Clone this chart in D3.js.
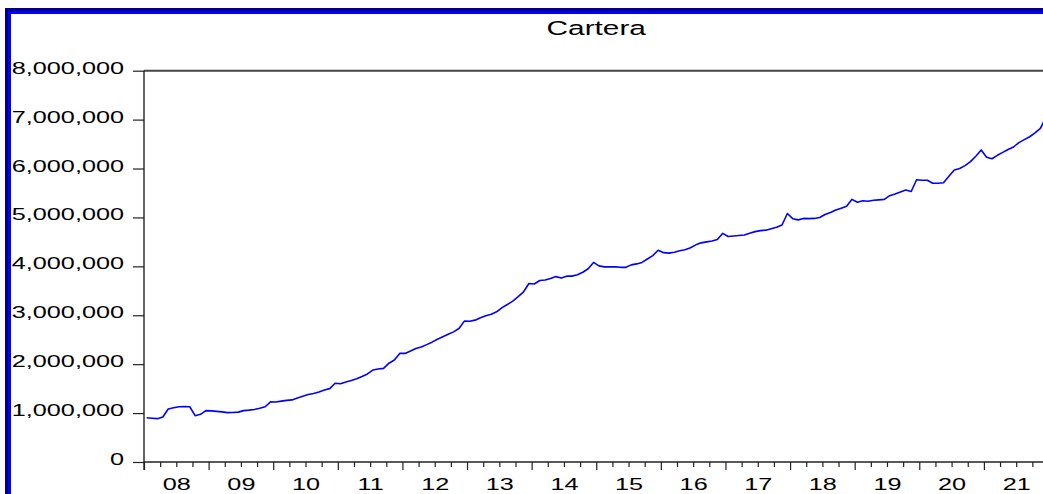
<!DOCTYPE html>
<html><head><meta charset="utf-8">
<script src="https://cdn.jsdelivr.net/npm/d3@7"></script>
<style>html,body{margin:0;padding:0;background:#fff;overflow:hidden}</style>
</head><body><svg id="c" width="1043" height="494"></svg>
<script>
const title = "Cartera";
const years = [2008,2009,2010,2011,2012,2013,2014,2015,2016,2017,2018,2019,2020,2021];
const yearLabels = ["08","09","10","11","12","13","14","15","16","17","18","19","20","21"];
const yTicks = [0,1000000,2000000,3000000,4000000,5000000,6000000,7000000,8000000];
// monthly values, Jan..Dec
const v2008 = [906000,895000,886000,920000,1084000,1110000,1130000,1135000,1130000,947000,975000,1050000];
const v2009 = [1045000,1035000,1025000,1010000,1012000,1020000,1050000,1060000,1075000,1100000,1130000,1230000];
const v2010 = [1227000,1245000,1260000,1270000,1310000,1345000,1380000,1400000,1430000,1470000,1500000,1610000];
const v2011 = [1600000,1635000,1665000,1700000,1750000,1800000,1880000,1900000,1915000,2020000,2085000,2220000];
const v2012 = [2220000,2270000,2320000,2350000,2400000,2450000,2510000,2560000,2610000,2660000,2730000,2880000];
const v2013 = [2877000,2900000,2950000,2990000,3020000,3070000,3155000,3220000,3290000,3380000,3480000,3650000];
const v2014 = [3640000,3710000,3720000,3750000,3790000,3760000,3800000,3800000,3830000,3880000,3950000,4080000];
const v2015 = [4010000,3990000,3990000,3990000,3980000,3980000,4030000,4050000,4080000,4150000,4220000,4330000];
const v2016 = [4280000,4270000,4290000,4320000,4340000,4380000,4440000,4480000,4500000,4520000,4550000,4675000];
const v2017 = [4610000,4620000,4630000,4640000,4675000,4710000,4730000,4740000,4770000,4800000,4845000,5080000];
const v2018 = [4975000,4950000,4980000,4975000,4980000,5000000,5060000,5100000,5150000,5190000,5230000,5370000];
const v2019 = [5310000,5340000,5330000,5350000,5360000,5370000,5445000,5480000,5520000,5560000,5530000,5770000];
const v2020 = [5760000,5760000,5700000,5700000,5710000,5840000,5970000,6000000,6060000,6140000,6250000,6380000];
const v2021 = [6230000,6200000,6270000,6330000,6390000,6440000,6530000,6590000,6650000,6730000,6820000,7050000];
const seriesByYear = [v2008,v2009,v2010,v2011,v2012,v2013,v2014,v2015,v2016,v2017,v2018,v2019,v2020,v2021];

const data = [];
years.forEach((yr,k)=>seriesByYear[k].forEach((v,m)=>data.push({t: yr+(m+0.5)/12, v})));

const svg = d3.select("#c");
const FONT = "'Liberation Sans', Arial, Helvetica, sans-serif";
const SX = 1.53;

const L = 144, R = 1048.5, T = 70.7, B = 462;
const x = d3.scaleLinear().domain([years[0], years[years.length-1]+1]).range([L, R]);
const y = d3.scaleLinear().domain([0, 8000000]).range([B, T]);

// frame (blue border)
svg.append("rect").attr("x",5).attr("y",8).attr("width",1043).attr("height",3).attr("fill","#000080");
svg.append("rect").attr("x",5).attr("y",8).attr("width",3).attr("height",494).attr("fill","#000080");
svg.append("rect").attr("x",8).attr("y",11).attr("width",1043).attr("height",3).attr("fill","#0000ff");
svg.append("rect").attr("x",8).attr("y",11).attr("width",3).attr("height",494).attr("fill","#0000ff");

// title
svg.append("text").attr("transform",`translate(${(L+R)/2},35) scale(${SX},1)`)
  .attr("text-anchor","middle").attr("font-family",FONT).attr("font-size",19.5).attr("fill","#000").text(title);

// top frame line
svg.append("line").attr("x1",L).attr("x2",R+5).attr("y1",T).attr("y2",T).attr("stroke","#444").attr("stroke-width",2);

// y axis
const gy = svg.append("g").attr("transform",`translate(${L},0)`)
  .call(d3.axisLeft(y).tickValues(yTicks).tickFormat(d3.format(",")).tickSize(11).tickSizeOuter(0));
gy.select(".domain").remove();
gy.selectAll(".tick line").attr("stroke","#222").attr("stroke-width",1.2);
gy.selectAll(".tick text").attr("x",0).attr("dy",null).attr("y",2.5)
  .attr("transform",`translate(-20,0) scale(${SX},1)`)
  .attr("font-family",FONT).attr("font-size",16.5).attr("fill","#000");
svg.append("line").attr("x1",L).attr("x2",L).attr("y1",T).attr("y2",B+8).attr("stroke","#111").attr("stroke-width",1.3);

// x axis: minor quarter ticks
const quarters = [];
years.forEach(yr=>[0.25,0.5,0.75].forEach(q=>quarters.push(yr+q)));
const gxm = svg.append("g").attr("transform",`translate(0,${B})`)
  .call(d3.axisBottom(x).tickValues(quarters).tickSize(5).tickSizeOuter(0).tickFormat(""));
gxm.select(".domain").remove();
gxm.selectAll(".tick line").attr("stroke","#222").attr("stroke-width",1.2);

const majors = years.concat([years[years.length-1]+1]);
const gxM = svg.append("g").attr("transform",`translate(0,${B})`)
  .call(d3.axisBottom(x).tickValues(majors).tickSize(8).tickSizeOuter(0).tickFormat(""));
gxM.select(".domain").remove();
gxM.selectAll(".tick line").attr("stroke","#222").attr("stroke-width",1.2);

const gxl = svg.append("g").attr("transform",`translate(0,${B})`)
  .call(d3.axisBottom(x).tickValues(years.map(yr=>yr+0.5)).tickSize(0)
    .tickFormat((d,i)=>yearLabels[i]));
gxl.select(".domain").remove();
gxl.selectAll(".tick text").attr("dy",null).attr("y",0)
  .attr("transform",`translate(0,28) scale(${SX},1)`)
  .attr("font-family",FONT).attr("font-size",16.5).attr("fill","#000");

svg.append("line").attr("x1",L).attr("x2",R+5).attr("y1",B).attr("y2",B).attr("stroke","#222").attr("stroke-width",1.4);

// series line
svg.append("path").datum(data)
  .attr("d", d3.line().x(d=>x(d.t)).y(d=>y(d.v)))
  .attr("fill","none").attr("stroke","#0000ff").attr("stroke-width",1.6).attr("stroke-linejoin","round");
</script></body></html>
